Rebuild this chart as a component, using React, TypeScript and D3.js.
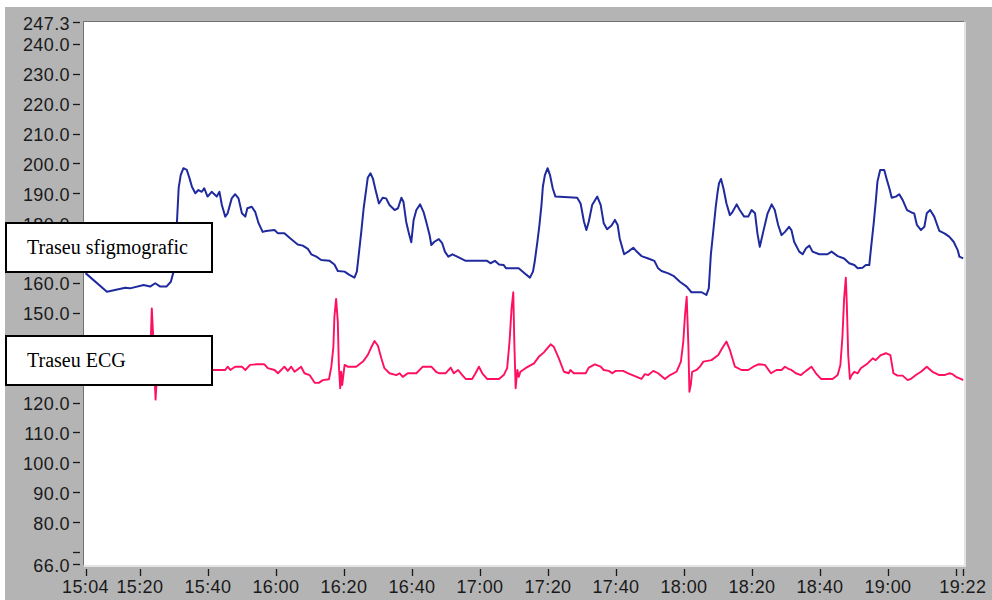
import React from "react";
import * as d3 from "d3";

// Time axis: minutes elapsed since 15:04, and trace values in mmHg-like units
const START = "15:04";
const END = "19:22";

const xTickTimes = ["15:04", "15:20", "15:40", "16:00", "16:20", "16:40", "17:00", "17:20", "17:40", "18:00", "18:20", "18:40", "19:00", "19:20", "19:22"];
const xUnlabeled = ["19:20"];
const yTickValues = [66, 70, 80, 90, 100, 110, 120, 130, 140, 150, 160, 170, 180, 190, 200, 210, 220, 230, 240, 247.3];
const yUnlabeled = [70];

const legendLabels = ["Traseu sfigmografic", "Traseu ECG"];

// Sphygmographic trace: [minutes since start, value]
const sfigmo: [number, number][] = [
  [0, 163.3], [6.3, 157.1], [11.7, 158.4], [13.1, 158.2], [17.1, 159.3], [19.0, 158.8], [20.5, 159.9], [22.0, 158.8],
  [23.8, 158.8], [25.1, 160.4], [25.9, 163.8], [26.7, 176.0], [27.4, 191.8], [28.0, 196.1], [28.8, 198.4], [29.8, 197.8],
  [30.6, 195.0], [31.3, 192.2], [32.3, 190.0], [33.2, 191.1], [34.2, 190.5], [34.9, 191.7], [35.9, 188.9], [37.1, 190.5],
  [38.6, 188.9], [39.4, 190.5], [40.1, 186.1], [41.1, 182.2], [41.8, 183.3], [43.0, 188.3], [44.0, 189.7], [45.0, 188.3],
  [46.0, 183.3], [47.0, 182.2], [47.6, 185.0], [48.9, 185.5], [49.9, 183.8], [50.9, 180.0], [52.1, 177.1], [53.1, 177.4],
  [55.6, 177.7], [56.6, 176.6], [58.5, 176.6], [60.0, 175.1], [62.4, 172.9], [63.9, 172.5], [65.4, 171.4], [66.4, 169.6],
  [67.9, 168.8], [69.3, 167.7], [71.8, 167.4], [73.2, 166.2], [74.2, 164.0], [76.2, 163.8], [77.6, 162.7], [79.1, 161.8],
  [79.8, 163.8], [80.4, 169.9], [81.1, 177.1], [81.8, 185.0], [82.6, 191.7], [83.0, 195.2], [83.8, 196.7], [84.5, 195.0],
  [85.3, 191.1], [86.3, 186.6], [87.4, 188.5], [88.4, 188.3], [89.4, 186.1], [90.9, 184.4], [91.9, 185.0], [92.9, 188.5],
  [93.5, 187.2], [94.3, 180.5], [95.1, 176.6], [95.8, 173.6], [96.5, 181.1], [97.3, 184.4], [98.4, 186.3], [99.4, 183.8],
  [100.2, 180.5], [101.2, 176.0], [101.7, 172.7], [102.6, 173.8], [103.9, 174.7], [104.9, 173.3], [105.7, 170.5], [106.7, 168.8],
  [107.9, 169.6], [109.3, 168.8], [111.8, 167.4], [118.1, 167.4], [119.1, 166.6], [120.4, 167.4], [121.6, 166.2], [123.0, 166.0],
  [123.7, 164.9], [127.4, 164.9], [129.2, 163.2], [130.7, 161.8], [131.6, 163.8], [132.1, 167.1], [132.9, 173.8], [133.5, 179.4],
  [134.1, 186.1], [134.5, 192.2], [135.1, 196.1], [135.9, 198.4], [136.6, 196.1], [137.4, 191.7], [138.2, 188.9], [144.6, 188.5],
  [145.6, 186.6], [146.6, 180.5], [147.3, 177.7], [148.0, 180.5], [149.0, 186.1], [150.5, 188.9], [151.5, 186.1], [152.4, 180.0],
  [153.4, 178.0], [154.7, 179.2], [155.7, 181.1], [156.5, 179.4], [157.1, 174.9], [158.4, 169.6], [159.6, 170.5], [161.1, 171.8],
  [162.1, 170.5], [163.5, 169.0], [165.5, 168.2], [167.3, 167.4], [168.4, 164.9], [169.4, 164.0], [171.4, 163.2], [172.9, 162.4],
  [174.8, 160.4], [176.8, 158.8], [178.2, 156.9], [181.2, 156.9], [182.6, 156.0], [183.3, 158.2], [183.9, 169.4], [184.6, 177.1],
  [185.3, 185.0], [185.9, 190.5], [186.3, 193.3], [186.9, 194.8], [187.6, 191.7], [188.5, 186.6], [189.5, 182.7], [190.3, 183.8],
  [191.5, 186.3], [192.4, 184.4], [193.7, 182.2], [194.9, 182.2], [195.9, 184.4], [196.9, 183.3], [197.6, 176.6], [198.3, 172.1],
  [199.3, 177.1], [200.6, 183.3], [201.8, 186.3], [202.7, 184.4], [203.7, 179.4], [204.7, 176.0], [205.7, 177.1], [206.9, 178.8],
  [207.6, 177.7], [208.4, 173.8], [209.9, 170.5], [210.9, 169.6], [211.9, 171.6], [212.9, 172.5], [213.8, 170.5], [215.8, 169.6],
  [218.2, 169.6], [219.4, 170.5], [221.2, 169.0], [223.1, 168.2], [224.6, 166.6], [226.1, 166.0], [227.1, 164.9], [228.5, 165.1],
  [229.5, 166.0], [230.5, 166.0], [231.0, 171.6], [231.8, 180.0], [232.4, 187.2], [232.9, 193.9], [233.7, 197.8], [234.9, 197.8],
  [235.7, 194.4], [236.4, 191.7], [237.1, 188.5], [238.3, 188.9], [239.3, 189.7], [240.3, 187.8], [241.6, 184.4], [242.9, 183.6],
  [243.7, 183.3], [244.5, 179.4], [245.7, 177.7], [246.7, 178.8], [247.4, 183.3], [248.4, 184.4], [249.6, 182.2], [251.1, 177.4],
  [252.6, 176.6], [254.0, 175.5], [255.3, 173.8], [256.5, 171.0], [257.0, 168.8], [258.1, 168.2],
];

// ECG trace: [minutes since start, value]
const ecg: [number, number][] = [
  [0, 130.9], [6.0, 130.3], [12.0, 131.5], [17.0, 130.6], [18.8, 131.0], [19.2, 141.0], [19.5, 151.5], [19.9, 142.0],
  [20.2, 132.0], [20.6, 121.0], [21.0, 129.0], [22.0, 131.5], [27.0, 132.0], [32.0, 131.0], [37.1, 130.9], [41.1, 130.9],
  [41.8, 132.0], [42.6, 130.9], [44.0, 132.0], [46.0, 132.0], [47.0, 130.9], [48.4, 132.6], [50.4, 132.8], [52.6, 132.8],
  [53.6, 131.5], [55.6, 130.9], [56.6, 129.8], [58.5, 132.0], [59.5, 130.6], [60.5, 132.0], [61.5, 130.3], [63.4, 132.0],
  [64.4, 129.8], [65.9, 129.2], [67.4, 126.6], [68.6, 126.6], [69.8, 127.5], [71.6, 127.8], [72.3, 132.0], [72.9, 138.7],
  [73.2, 148.7], [73.7, 154.7], [74.2, 147.0], [74.5, 132.6], [74.9, 124.8], [75.2, 130.3], [75.5, 125.9], [76.2, 132.6],
  [77.1, 132.0], [79.6, 132.0], [81.6, 133.7], [83.0, 135.9], [84.0, 138.4], [85.0, 140.6], [86.0, 139.0], [87.0, 134.8],
  [87.9, 131.5], [89.4, 129.8], [91.4, 129.2], [92.4, 129.8], [93.3, 128.6], [94.8, 129.8], [97.3, 129.8], [99.2, 132.0],
  [101.7, 132.0], [103.1, 130.3], [104.1, 129.8], [105.9, 129.8], [107.4, 131.7], [108.3, 129.8], [109.6, 130.9], [110.8, 129.2],
  [111.8, 127.9], [113.7, 127.9], [114.7, 129.8], [115.7, 132.0], [116.7, 129.8], [118.1, 127.9], [121.6, 127.9], [123.0, 129.2],
  [124.0, 131.5], [124.7, 140.4], [125.3, 151.5], [125.8, 156.9], [126.1, 140.4], [126.5, 124.8], [127.0, 130.9], [127.4, 128.6],
  [127.9, 130.3], [129.4, 131.5], [131.9, 133.1], [133.3, 135.3], [134.8, 136.8], [136.8, 139.5], [137.7, 138.7], [139.2, 134.8],
  [140.7, 130.3], [142.1, 129.8], [142.6, 130.9], [143.6, 129.8], [147.1, 129.8], [148.0, 131.7], [149.8, 132.8], [151.5, 132.0],
  [152.4, 130.9], [153.9, 130.6], [154.9, 129.8], [155.9, 130.6], [158.1, 130.6], [159.6, 129.8], [162.1, 128.6], [163.5, 127.9],
  [164.5, 129.5], [165.5, 129.2], [167.0, 130.6], [168.4, 129.8], [170.4, 127.9], [171.9, 129.2], [173.8, 130.3], [175.1, 133.7],
  [175.8, 140.4], [176.3, 149.3], [176.8, 155.4], [177.3, 139.0], [177.6, 123.6], [178.0, 125.9], [178.4, 130.3], [179.7, 130.9],
  [180.7, 132.0], [181.7, 133.7], [184.1, 134.2], [186.1, 135.9], [187.1, 137.9], [188.5, 140.4], [189.5, 137.6], [191.0, 132.0],
  [192.9, 130.9], [194.9, 130.9], [196.4, 132.0], [197.9, 132.8], [199.8, 132.6], [201.6, 129.8], [203.2, 130.9], [204.7, 130.9],
  [205.7, 132.0], [206.7, 131.3], [207.6, 130.9], [208.9, 129.8], [210.4, 129.2], [211.9, 130.6], [213.5, 132.0], [214.8, 129.8],
  [216.3, 127.9], [219.7, 127.9], [221.2, 129.2], [222.0, 132.6], [222.6, 142.0], [223.1, 154.9], [223.6, 161.8], [223.9, 152.6],
  [224.3, 135.9], [224.8, 127.9], [225.3, 129.2], [226.1, 130.3], [227.1, 129.8], [228.0, 131.5], [230.0, 133.1], [231.5, 134.8],
  [232.4, 134.2], [233.9, 135.9], [235.4, 136.5], [236.7, 135.9], [237.6, 129.8], [238.8, 129.0], [240.3, 129.0], [241.8, 127.5],
  [242.7, 127.9], [244.2, 129.2], [245.7, 130.3], [247.4, 132.0], [249.1, 130.3], [251.1, 129.2], [252.6, 129.2], [254.0, 129.8],
  [255.0, 129.5], [256.0, 128.6], [257.4, 127.9], [258.1, 127.5],
];

const parseHM = d3.timeParse("%H:%M");
const fmtHM = d3.timeFormat("%H:%M");
const t0 = parseHM(START) as Date;
const t1 = parseHM(END) as Date;
const at = (min: number) => new Date(t0.getTime() + min * 60000);

const W = 992;
const H = 600;
const PLOT = { left: 84, top: 22, right: 964, bottom: 565 };

export default function App() {
  const x = d3.scaleTime().domain([t0, t1]).range([85.5, 962.8]);
  const y = d3.scaleLinear().domain([66, 247.3]).range([564, 22]);

  const line = d3
    .line<[number, number]>()
    .x((d) => x(at(d[0])))
    .y((d) => y(d[1]));

  const axisFont = "'Liberation Sans', Arial, sans-serif";
  const legendFont = "'Liberation Serif', 'Times New Roman', serif";

  const legendBoxes = [
    { y0: 223, y1: 272 },
    { y0: 336, y1: 385 },
  ];

  return (
    <svg
      width={W}
      height={H}
      viewBox={`0 0 ${W} ${H}`}
      style={{ position: "absolute", left: 0, top: 0, display: "block" }}
    >
      <defs>
        <clipPath id="plot-clip">
          <rect x={PLOT.left} y={PLOT.top} width={PLOT.right - PLOT.left} height={PLOT.bottom - PLOT.top} />
        </clipPath>
      </defs>
      <rect x={0} y={0} width={W} height={H} fill="#ffffff" />
      {/* panel */}
      <rect x={5} y={7} width={W - 5} height={H - 7} fill="#b4b4b4" />

      {/* plot area with sunken border */}
      <rect x={PLOT.left} y={PLOT.top} width={PLOT.right - PLOT.left} height={PLOT.bottom - PLOT.top} fill="#ffffff" />
      <line x1={PLOT.left} y1={PLOT.bottom + 1} x2={PLOT.right + 2} y2={PLOT.bottom + 1} stroke="#e4e4e4" strokeWidth={2} />
      <line x1={PLOT.right + 1} y1={PLOT.top} x2={PLOT.right + 1} y2={PLOT.bottom + 2} stroke="#e4e4e4" strokeWidth={2} />
      <line x1={PLOT.left - 0.5} y1={PLOT.top - 0.5} x2={PLOT.right} y2={PLOT.top - 0.5} stroke="#707070" strokeWidth={1} />
      <line x1={PLOT.left - 0.5} y1={PLOT.top - 0.5} x2={PLOT.left - 0.5} y2={PLOT.bottom} stroke="#707070" strokeWidth={1} />

      {/* y axis */}
      {yTickValues.map((v) => (
        <g key={`y${v}`}>
          <line x1={73} x2={80} y1={Math.round(y(v)) + 0.5} y2={Math.round(y(v)) + 0.5} stroke="#1a1a1a" strokeWidth={1.3} />
          {!yUnlabeled.includes(v) && (
            <text
              x={70}
              y={y(v) + 7.5}
              textAnchor="end"
              fontFamily={axisFont}
              fontSize={18}
              letterSpacing={0.4}
              fill="#1a1a1a"
            >
              {v.toFixed(1)}
            </text>
          )}
        </g>
      ))}

      {/* x axis */}
      {xTickTimes.map((s) => {
        const d = parseHM(s) as Date;
        const px = Math.round(x(d)) + 0.5;
        return (
          <g key={`x${s}`}>
            <line x1={px} x2={px} y1={569} y2={576} stroke="#1a1a1a" strokeWidth={1.3} />
            {!xUnlabeled.includes(s) && (
              <text
                x={x(d)}
                y={593}
                textAnchor="middle"
                fontFamily={axisFont}
                fontSize={18}
                letterSpacing={0.4}
                fill="#1a1a1a"
              >
                {fmtHM(d)}
              </text>
            )}
          </g>
        );
      })}

      {/* traces */}
      <g clipPath="url(#plot-clip)">
        <path d={line(sfigmo) || ""} fill="none" stroke="#1f2a9e" strokeWidth={2} strokeLinejoin="round" />
        <path d={line(ecg) || ""} fill="none" stroke="#ff0f5f" strokeWidth={1.9} strokeLinejoin="round" />
      </g>

      {/* trace labels */}
      {legendLabels.map((label, i) => {
        const b = legendBoxes[i];
        return (
          <g key={label}>
            <rect x={6} y={b.y0} width={206} height={b.y1 - b.y0} fill="#ffffff" stroke="#000000" strokeWidth={2} />
            <text x={27} y={(b.y0 + b.y1) / 2 + 6.5} fontFamily={legendFont} fontSize={20} fill="#000000">
              {label}
            </text>
          </g>
        );
      })}
    </svg>
  );
}
